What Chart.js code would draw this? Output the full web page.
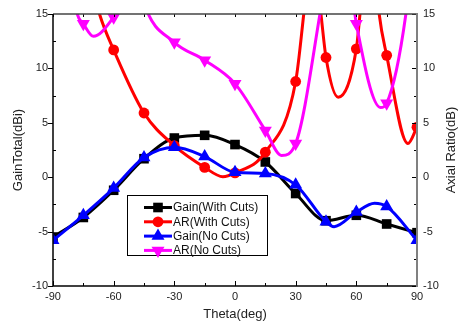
<!DOCTYPE html>
<html>
<head>
<meta charset="utf-8">
<script src="https://cdn.jsdelivr.net/npm/chart.js@4.4.1/dist/chart.umd.min.js"></script>
<style>
  body { margin: 0; background: #fff; }
  #wrap { width: 459px; height: 327px; }
</style>
</head>
<body>
<div id="wrap"><canvas id="chart" width="459" height="327"></canvas></div>
<script>
// values; markers sit on the 15 deg grid,
// the other points only follow the curve between markers (some go off the top)
const gainCutsX = [-90, -75, -60, -45, -30, -15, 0, 15, 30, 45, 60, 75, 90];
const gainCutsY = [-5.5, -3.7, -1.2, 1.7, 3.6, 3.85, 3.0, 1.4, -1.5, -4.0, -3.5, -4.3, -5.1];

const arCutsX = [-90, -75, -67, -60, -45, -30, -15, -6, 0, 15, 30, 34, 38, 42.5, 45, 51, 60, 61.8, 66.5, 71.3, 75, 85.5, 90];
const arCutsY = [35, 21, 15, 11.7, 5.9, 2.9, 0.9, 0.05, 0.4, 2.3, 8.8, 15, 22, 15, 11.0, 7.35, 11.8, 15, 25, 15, 11.2, 3.1, 4.6];

const gainNoCutsX = [-90, -75, -60, -45, -30, -15, 0, 15, 30, 45, 49, 60, 69, 75, 90];
const gainNoCutsY = [-5.8, -3.5, -1.0, 1.8, 2.75, 1.9, 0.45, 0.35, -0.7, -4.1, -4.55, -3.2, -2.4, -2.7, -5.8];

const arNoCutsX = [-90, -78, -75, -70, -60, -59, -52, -45, -30, -15, 0, 15, 23, 30, 42, 50, 59.3, 60, 72, 75, 84.5, 90];
const arNoCutsY = [28, 15, 14.1, 12.95, 14.7, 15, 22, 16, 12.4, 10.75, 8.6, 4.3, 2.0, 3.1, 15, 25, 15, 14.1, 6.4, 6.8, 15, 25];

const xTicks = { min: -90, max: 90, step: 30 };
const yTicks = { min: -10, max: 15, step: 5 };

const FONT = "'Liberation Sans', Arial, sans-serif";
Chart.defaults.font.family = FONT;

function pts(xs, ys) {
    return xs.map((x, i) => ({ x: x, y: ys[i] }));
}
// only the 15 deg samples get a marker
function marks(xs, r) {
    return xs.map(x => (x % 15 === 0 ? r : 0));
}

const series = [
    { label: "Gain(With Cuts)", xs: gainCutsX, ys: gainCutsY, color: "#000000", style: "rect", r: 6.8, rot: 0, axis: "y" },
    { label: "AR(With Cuts)", xs: arCutsX, ys: arCutsY, color: "#ff0000", style: "circle", r: 5.4, rot: 0, axis: "y2" },
    { label: "Gain(No Cuts)", xs: gainNoCutsX, ys: gainNoCutsY, color: "#0000ff", style: "triangle", r: 7.5, rot: 0, axis: "y" },
    { label: "AR(No Cuts)", xs: arNoCutsX, ys: arNoCutsY, color: "#ff00ff", style: "triangle", r: 7.5, rot: 180, axis: "y2" }
];

function drawMarker(ctx, style, x, y, r, rot) {
    ctx.beginPath();
    if (style === "rect") {
        const s = r * Math.SQRT1_2;
        ctx.rect(x - s, y - s, 2 * s, 2 * s);
    } else if (style === "circle") {
        ctx.arc(x, y, r, 0, Math.PI * 2);
    } else {
        let a = rot * Math.PI / 180;
        for (let k = 0; k < 3; k++) {
            const px = x + Math.sin(a) * r;
            const py = y - Math.cos(a) * r;
            if (k === 0) ctx.moveTo(px, py); else ctx.lineTo(px, py);
            a += Math.PI * 2 / 3;
        }
        ctx.closePath();
    }
    ctx.fill();
}

// box, inner ticks, legend and the right axis title
const framePlugin = {
    id: "frame",
    afterDraw(chart) {
        const { ctx, chartArea: a, scales } = chart;
        const x = scales.x, y = scales.y;
        ctx.save();

        function seg(x1, y1, x2, y2) {
            ctx.beginPath();
            ctx.moveTo(x1, y1);
            ctx.lineTo(x2, y2);
            ctx.stroke();
        }

        ctx.strokeStyle = "#000";
        ctx.lineWidth = 1;
        for (let v = xTicks.min; v <= xTicks.max; v += xTicks.step / 2) {
            const px = Math.round(x.getPixelForValue(v)) + 0.5;
            const len = v % xTicks.step === 0 ? 5 : 3;
            seg(px, a.bottom, px, a.bottom - len);
            seg(px, a.top, px, a.top + 3);
        }
        for (let v = yTicks.min; v <= yTicks.max; v += yTicks.step / 2) {
            const py = Math.round(y.getPixelForValue(v)) + 0.5;
            if (v % yTicks.step === 0) {
                seg(a.left - 5, py, a.left, py);
                seg(a.right, py, a.right - 5, py);
            } else {
                seg(a.left, py, a.left + 3, py);
                seg(a.right, py, a.right - 3, py);
            }
        }

        // axis lines
        ctx.lineWidth = 1.5;
        ctx.strokeStyle = "#444";
        seg(a.left, a.top, a.right, a.top);
        ctx.strokeStyle = "#000";
        seg(a.left, a.top, a.left, a.bottom);
        seg(a.left, a.bottom, a.right, a.bottom);
        ctx.lineWidth = 2;
        ctx.strokeStyle = "#808080";
        seg(a.right, a.top - 1, a.right, a.bottom + 1);

        // legend
        const lx = a.left + 74, ly = a.top + 181, lw = 140, lh = 60;
        ctx.fillStyle = "#fff";
        ctx.fillRect(lx, ly, lw, lh);
        ctx.lineWidth = 1;
        ctx.strokeStyle = "#000";
        ctx.strokeRect(lx + 0.5, ly + 0.5, lw, lh);
        ctx.font = "12px " + FONT;
        ctx.textBaseline = "middle";
        series.forEach((s, i) => {
            const ry = ly + 12.5 + i * 14.3;
            ctx.strokeStyle = s.color;
            ctx.fillStyle = s.color;
            ctx.lineWidth = 3;
            seg(lx + 17, ry, lx + 45, ry);
            drawMarker(ctx, s.style, lx + 31, ry, s.r, s.rot);
            ctx.fillStyle = "#111";
            ctx.fillText(s.label, lx + 46, ry + 0.5);
        });

        // right title, reading upwards like the left one
        ctx.translate(451, (a.top + a.bottom) / 2);
        ctx.rotate(-Math.PI / 2);
        ctx.textAlign = "center";
        ctx.font = "13px " + FONT;
        ctx.fillStyle = "#222";
        ctx.fillText("Axial Ratio(dB)", 0, 0);
        ctx.restore();
    }
};

const datasets = series.map((s, i) => ({
    label: s.label,
    data: pts(s.xs, s.ys),
    yAxisID: s.axis,
    borderColor: s.color,
    backgroundColor: s.color,
    borderWidth: 3,
    cubicInterpolationMode: "monotone",
    pointStyle: s.style,
    pointRotation: s.rot,
    pointRadius: marks(s.xs, s.r),
    pointHoverRadius: marks(s.xs, s.r),
    pointBorderWidth: 0,
    order: series.length - i
}));

const tickFont = { size: 11 };

new Chart(document.getElementById("chart"), {
    type: "line",
    data: { datasets: datasets },
    plugins: [framePlugin],
    options: {
        responsive: false,
        animation: false,
        events: [],
        layout: { padding: { top: 14 } },
        plugins: {
            legend: { display: false },
            tooltip: { enabled: false }
        },
        scales: {
            x: {
                type: "linear",
                min: xTicks.min,
                max: xTicks.max,
                grid: { display: false, drawTicks: false },
                border: { display: false },
                ticks: { stepSize: xTicks.step, font: tickFont, color: "#222", padding: 4, maxRotation: 0 },
                title: { display: true, text: "Theta(deg)", color: "#222", font: { size: 13 }, padding: { top: 0, bottom: 5 } },
                afterFit(s) { s.height = 41; }
            },
            y: {
                position: "left",
                min: yTicks.min,
                max: yTicks.max,
                grid: { display: false, drawTicks: false },
                border: { display: false },
                ticks: { stepSize: yTicks.step, font: tickFont, color: "#222", padding: 5 },
                title: { display: true, text: "GainTotal(dBi)", color: "#222", font: { size: 13 }, padding: { top: 11, bottom: 0 } },
                afterFit(s) { s.width = 53; }
            },
            y2: {
                position: "right",
                min: yTicks.min,
                max: yTicks.max,
                grid: { display: false, drawTicks: false },
                border: { display: false },
                ticks: { stepSize: yTicks.step, font: tickFont, color: "#222", padding: 6 },
                afterFit(s) { s.width = 42; }
            }
        }
    }
});
</script>
</body>
</html>
